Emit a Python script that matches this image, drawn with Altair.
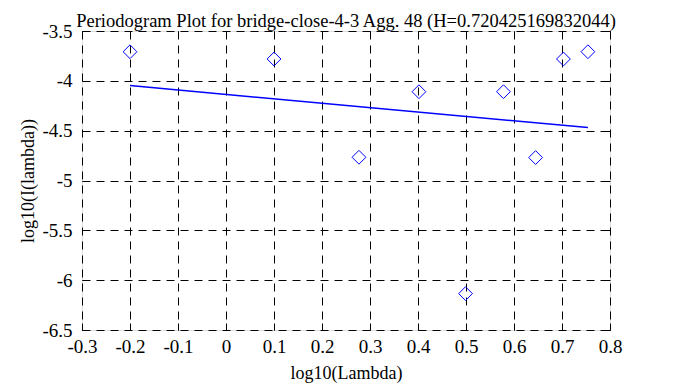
import altair as alt
import pandas as pd

# Periodogram points (log10 lambda, log10 I(lambda))
log_lambda = [-0.2, 0.1, 0.277, 0.402, 0.499, 0.578, 0.645, 0.703, 0.754]
log_I = [-3.708, -3.781, -4.767, -4.109, -6.135, -4.109, -4.770, -3.781, -3.708]

# Fitted regression line end points
fit_x = [-0.2, 0.754]
fit_y = [-4.048, -4.469]

x_ticks = [-0.3, -0.2, -0.1, 0.0, 0.1, 0.2, 0.3, 0.4, 0.5, 0.6, 0.7, 0.8]
y_ticks = [-3.5, -4.0, -4.5, -5.0, -5.5, -6.0, -6.5]

title_text = "Periodogram Plot for bridge-close-4-3 Agg. 48 (H=0.720425169832044)"

pts = pd.DataFrame({"x": log_lambda, "y": log_I})
fit = pd.DataFrame({"x": fit_x, "y": fit_y})

FONT = "Liberation Serif"

xscale = alt.Scale(domain=[-0.3, 0.8], nice=False, zero=False)
yscale = alt.Scale(domain=[-6.5, -3.5], nice=False, zero=False)

LBL = "'' + datum.value"

points = alt.Chart(pts).mark_point(
    shape="diamond", filled=False, color="#0000ff", size=190, strokeWidth=1, opacity=1
).encode(
    x=alt.X("x:Q", scale=xscale, title="log10(Lambda)",
            axis=alt.Axis(orient="bottom", values=x_ticks, offset=-7, tickSize=7,
                          tickColor="black", tickWidth=1, domain=False,
                          grid=True, gridColor="black", gridDash=[8, 6], gridWidth=1, gridOpacity=1,
                          labelFont=FONT, labelFontSize=19, labelColor="black", labelPadding=7,
                          labelExpr=LBL, labelFlush=False,
                          titleFont=FONT, titleFontSize=18, titleFontWeight="normal",
                          titleColor="black", titlePadding=8)),
    y=alt.Y("y:Q", scale=yscale, title="log10(I(lambda))",
            axis=alt.Axis(orient="left", values=y_ticks, offset=-7, tickSize=7,
                          tickColor="black", tickWidth=1, domain=False,
                          grid=True, gridColor="black", gridDash=[8, 6], gridWidth=1, gridOpacity=1,
                          labelFont=FONT, labelFontSize=19, labelColor="black", labelPadding=10,
                          labelExpr=LBL, labelFlush=False,
                          titleFont=FONT, titleFontSize=18, titleFontWeight="normal",
                          titleColor="black", titlePadding=4)),
)

line = alt.Chart(fit).mark_line(color="#0000ff", strokeWidth=1.5).encode(
    x=alt.X("x:Q", scale=xscale,
            axis=alt.Axis(orient="top", values=x_ticks, offset=-7, tickSize=7,
                          tickColor="black", tickWidth=1, domain=False, grid=False,
                          labels=False, title=None)),
    y=alt.Y("y:Q", scale=yscale,
            axis=alt.Axis(orient="right", values=y_ticks, offset=-7, tickSize=7,
                          tickColor="black", tickWidth=1, domain=False, grid=False,
                          labels=False, title=None)),
)

chart = alt.layer(points, line).resolve_axis(x="independent", y="independent").properties(
    width=528, height=299,
    title=alt.TitleParams(title_text, font=FONT, fontSize=18.5, fontWeight="normal",
                          color="black", anchor="middle", offset=-8),
    autosize=alt.AutoSizeParams(type="none"),
    padding={"left": 74, "top": 23, "right": 70, "bottom": 62},
).configure_view(stroke="black", strokeWidth=2).configure(background="white")

chart.save("out.html", embed_options={"renderer": "svg", "actions": False})
